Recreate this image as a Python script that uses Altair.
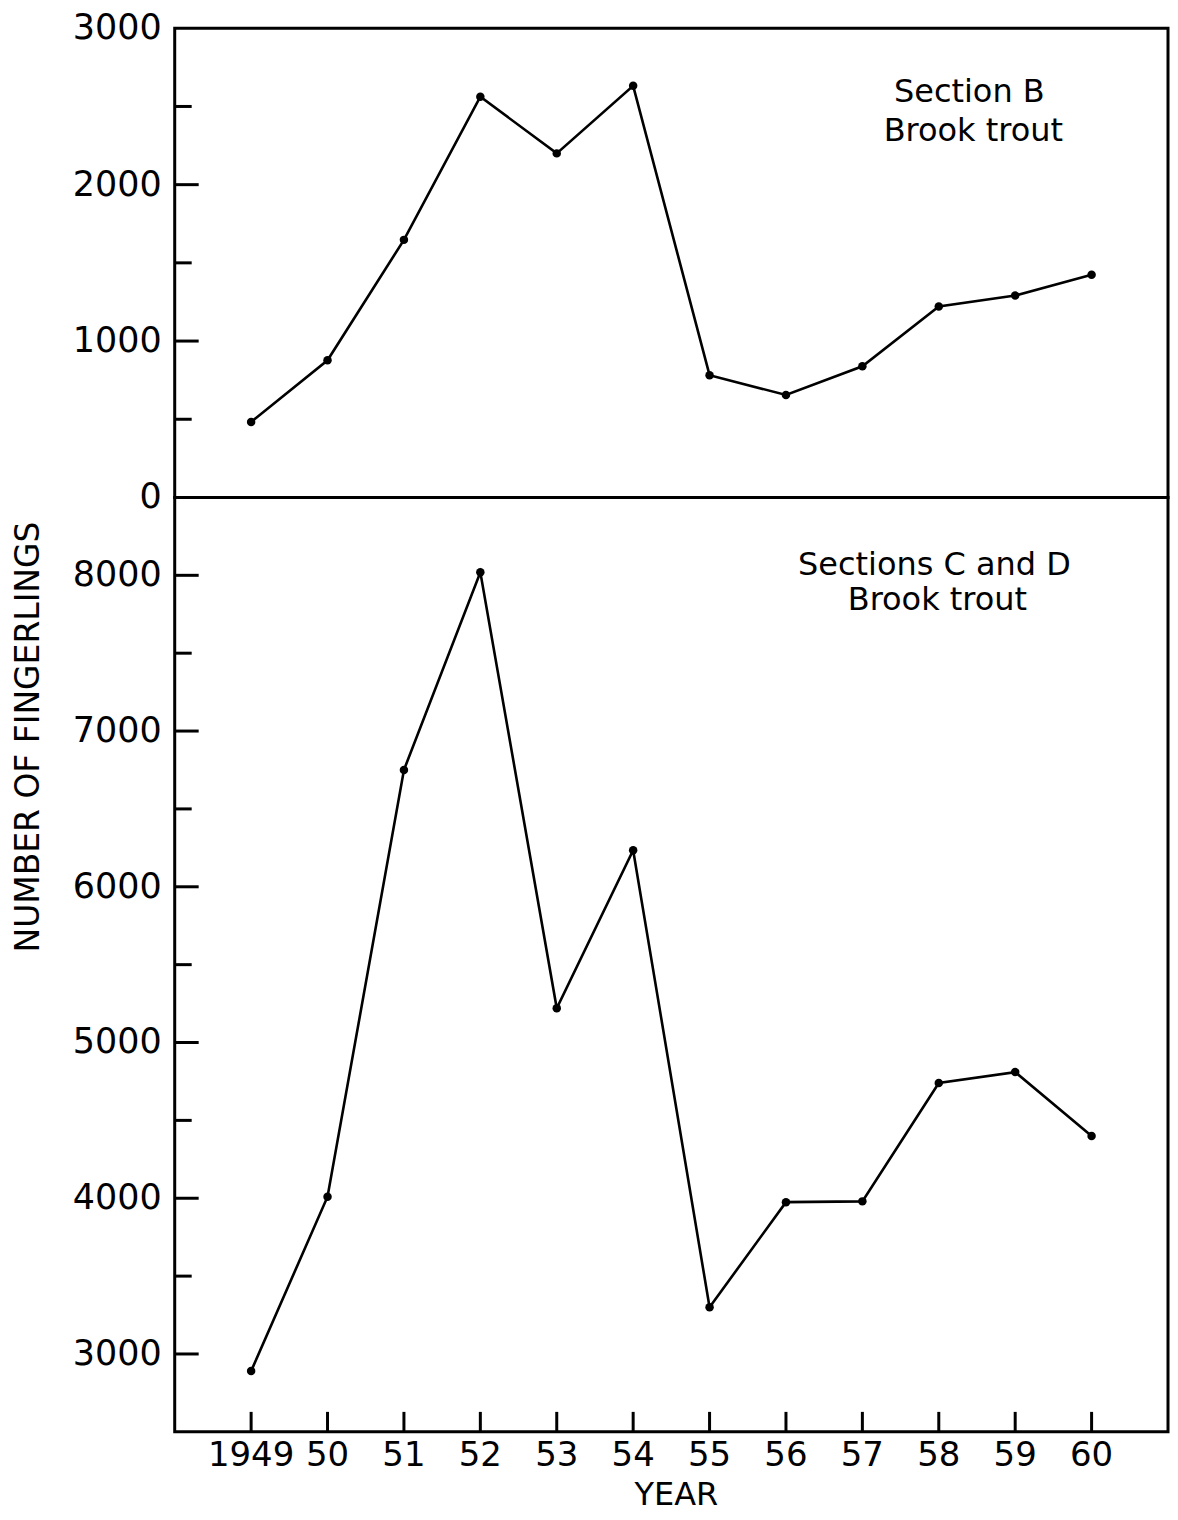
import altair as alt
import pandas as pd

FONT = "DejaVu Sans"

# ---- data ----
years = [1949, 1950, 1951, 1952, 1953, 1954, 1955, 1956, 1957, 1958, 1959, 1960]
year_labels = ["1949", "50", "51", "52", "53", "54", "55", "56", "57", "58", "59", "60"]

section_b = [483, 877, 1647, 2562, 2200, 2632, 782, 655, 839, 1221, 1291, 1424]
sections_cd = [2890, 4010, 6750, 8020, 5220, 6235, 3300, 3975, 3980, 4740, 4810, 4400]

top_label_values = [0, 1000, 2000, 3000]
top_major_ticks = [1000, 2000]
top_minor_ticks = [500, 1500, 2500]

bottom_label_values = [3000, 4000, 5000, 6000, 7000, 8000]
bottom_major_ticks = [3000, 4000, 5000, 6000, 7000, 8000]
bottom_minor_ticks = [3500, 4500, 5500, 6500, 7500]

top_note = ["Section B", "Brook trout"]
bottom_note = ["Sections C and D", "Brook trout"]

y_title = "NUMBER OF FINGERLINGS"
x_title = "YEAR"

# ---- layout / style ----
W = 995
H_TOP = 470
H_BOT = 936
MAJOR_LEN = 24
MINOR_LEN = 17
XTICK_LEN = 20

xscale = alt.Scale(domain=[1948, 1961], nice=False, zero=False)


def fixed_text(text, x, y, size, angle=0):
    kw = dict(align="center", baseline="middle", font=FONT, fontSize=size, color="black")
    if angle:
        kw["angle"] = angle
    return alt.Chart(pd.DataFrame({"k": [0]})).mark_text(**kw).encode(
        x=alt.value(x), y=alt.value(y), text=alt.value(text)
    )


def panel(values, domain, label_values, major, minor, note, note_pos, height, bottom):
    df = pd.DataFrame({"year": years, "count": values})
    yscale = alt.Scale(domain=domain, nice=False, zero=False)

    x_enc = alt.X("year:Q", scale=xscale, axis=None)
    y_enc = alt.Y("count:Q", scale=yscale, axis=None)

    base = alt.Chart(df).encode(x=x_enc, y=y_enc)
    line = base.mark_line(color="black", strokeWidth=2.6)
    pts = base.mark_circle(color="black", size=72, opacity=1)

    major_rule = alt.Chart(pd.DataFrame({"tick": major})).mark_rule(
        color="black", strokeWidth=3
    ).encode(
        y=alt.Y("tick:Q", scale=yscale, axis=None),
        x=alt.value(0), x2=alt.value(MAJOR_LEN),
    )
    minor_rule = alt.Chart(pd.DataFrame({"tick": minor})).mark_rule(
        color="black", strokeWidth=3
    ).encode(
        y=alt.Y("tick:Q", scale=yscale, axis=None),
        x=alt.value(0), x2=alt.value(MINOR_LEN),
    )
    ylabels = alt.Chart(
        pd.DataFrame({"v": label_values, "lab": [str(v) for v in label_values]})
    ).mark_text(
        align="right", baseline="middle", font=FONT, fontSize=35, color="black"
    ).encode(
        y=alt.Y("v:Q", scale=yscale, axis=None),
        x=alt.value(-13),
        text="lab:N",
    )
    layers = [line, pts, major_rule, minor_rule, ylabels]
    if bottom:
        xtick = alt.Chart(pd.DataFrame({"year": years})).mark_rule(
            color="black", strokeWidth=3
        ).encode(
            x=alt.X("year:Q", scale=xscale, axis=None),
            y=alt.value(height), y2=alt.value(height - XTICK_LEN),
        )
        xlabels = alt.Chart(
            pd.DataFrame({"year": years, "lab": year_labels})
        ).mark_text(
            align="center", baseline="middle", font=FONT, fontSize=34, color="black"
        ).encode(
            x=alt.X("year:Q", scale=xscale, axis=None),
            y=alt.value(height + 24),
            text="lab:N",
        )
        layers += [
            xtick,
            xlabels,
            fixed_text(x_title, W / 2 + 5, height + 63, 32),
            fixed_text(y_title, -146, 240, 33, angle=270),
        ]
    for txt, (nx, ny) in zip(note, note_pos):
        layers.append(fixed_text(txt, nx, ny, 32))
    return alt.layer(*layers).properties(width=W, height=height)


top = panel(section_b, [0, 3000], top_label_values, top_major_ticks, top_minor_ticks,
            top_note, [(796, 64), (800, 103)], H_TOP, False)
bottom = panel(sections_cd, [2500, 8500], bottom_label_values, bottom_major_ticks,
               bottom_minor_ticks, bottom_note, [(761, 68), (764, 103)], H_BOT, True)

chart = alt.vconcat(top, bottom, spacing=0, bounds="flush").resolve_scale(
    y="independent"
).properties(
    padding={"left": 3, "top": 0, "right": 0, "bottom": 0}
).configure_view(
    stroke="black", strokeWidth=3
)

chart.save("out.html", embed_options={"renderer": "svg", "actions": False})
